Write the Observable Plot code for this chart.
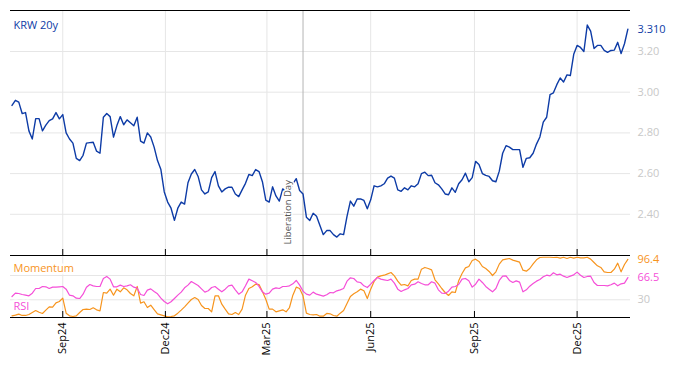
<!DOCTYPE html>
<html><head><meta charset="utf-8">
<script src="https://cdn.jsdelivr.net/npm/d3@7"></script>
<script src="https://cdn.jsdelivr.net/npm/@observablehq/plot@0.6"></script>
<style>
body{margin:0;background:#fff;}
#chart svg{display:block;}
</style></head><body><div id="chart"></div>
<script>
// sampling of the series: one reading every 3 calendar days from the first date
const firstDate = "2024-07-18";
const stepDays = 3;

const krw = [2.935, 2.96, 2.951, 2.895, 2.90, 2.81, 2.77, 2.87, 2.87, 2.81,
 2.838, 2.86, 2.869, 2.90, 2.869, 2.89, 2.80, 2.77, 2.75, 2.675,
 2.664, 2.69, 2.75, 2.752, 2.754, 2.71, 2.70, 2.877, 2.895, 2.88,
 2.779, 2.836, 2.88, 2.84, 2.864, 2.85, 2.835, 2.877, 2.76, 2.75,
 2.80, 2.78, 2.73, 2.664, 2.62, 2.51, 2.46, 2.43, 2.37, 2.43,
 2.46, 2.45, 2.555, 2.598, 2.62, 2.586, 2.52, 2.50, 2.51, 2.58,
 2.61, 2.54, 2.51, 2.525, 2.533, 2.533, 2.50, 2.487, 2.52, 2.552,
 2.596, 2.59, 2.62, 2.61, 2.56, 2.47, 2.46, 2.535, 2.49, 2.465,
 2.525, 2.51, 2.51, 2.55, 2.575, 2.517, 2.50, 2.386, 2.37, 2.405,
 2.39, 2.345, 2.30, 2.32, 2.32, 2.30, 2.288, 2.304, 2.30, 2.39,
 2.465, 2.44, 2.475, 2.476, 2.468, 2.427, 2.471, 2.54, 2.535, 2.54,
 2.55, 2.578, 2.588, 2.578, 2.52, 2.513, 2.53, 2.52, 2.54, 2.535,
 2.55, 2.60, 2.607, 2.59, 2.592, 2.555, 2.545, 2.525, 2.50, 2.496,
 2.53, 2.508, 2.55, 2.57, 2.602, 2.56, 2.58, 2.66, 2.645, 2.60,
 2.591, 2.586, 2.565, 2.56, 2.612, 2.70, 2.737, 2.73, 2.718, 2.718,
 2.718, 2.631, 2.675, 2.678, 2.70, 2.745, 2.78, 2.853, 2.877, 2.988,
 2.997, 3.037, 3.07, 3.05, 3.085, 3.082, 3.186, 3.23, 3.22, 3.20,
 3.33, 3.30, 3.215, 3.23, 3.23, 3.206, 3.196, 3.205, 3.207, 3.245,
 3.19, 3.238, 3.31];

const momentum = [3.6, 4.7, 6.4, 4.2, 4.2, 5.8, 9.1, 12.4, 9.6, 7.5,
 13.0, 18.4, 17.9, 25.0, 27.2, 32.7, 8.0, 3.6, 2.5, 3.6,
 9.1, 14.0, 14.6, 14.0, 16.8, 13.5, 11.8, 42.0, 40.9, 47.5,
 37.6, 47.5, 43.1, 49.7, 46.4, 40.4, 36.5, 51.9, 24.5, 26.7,
 17.3, 21.2, 14.0, 6.9, 5.3, 3.6, 2.0, 2.5, 3.6, 8.0,
 13.0, 18.4, 24.5, 30.5, 33.8, 30.5, 20.6, 15.7, 15.7, 10.2,
 36.5, 36.5, 22.8, 14.6, 6.9, 5.8, 9.1, 5.8, 14.6, 37.6,
 48.6, 51.4, 55.7, 55.2, 43.7, 31.0, 14.6, 14.6, 10.2, 11.8,
 13.5, 10.2, 17.3, 37.6, 50.8, 48.6, 36.5, 8.0, 5.8, 5.3,
 5.8, 3.0, 3.0, 7.5, 6.9, 4.2, 3.0, 8.0, 12.4, 23.9,
 35.4, 39.8, 43.1, 47.5, 44.8, 32.1, 47.5, 60.1, 67.3, 69.4,
 70.5, 72.7, 74.9, 69.4, 60.7, 54.1, 55.2, 53.0, 61.8, 64.0,
 64.0, 80.4, 83.2, 81.5, 79.3, 62.9, 56.3, 48.6, 42.0, 37.1,
 43.1, 42.0, 61.2, 73.3, 82.6, 84.8, 94.7, 96.9, 93.1, 84.8,
 81.5, 76.6, 70.0, 76.0, 88.7, 95.8, 96.9, 98.0, 95.3, 93.6,
 91.9, 78.8, 77.1, 81.5, 89.2, 95.8, 99.6, 100, 100, 100,
 99.6, 100, 98.5, 100, 98.0, 100, 98.5, 100, 99.1, 99.1,
 100, 96.9, 91.4, 85.9, 83.2, 76.0, 74.9, 74.9, 80.4, 90.3,
 76.0, 88.1, 96.4];

const rsi = [35.4, 40.9, 40.4, 38.7, 37.6, 36.5, 40.9, 48.6, 48.6, 51.9,
 51.4, 48.6, 50.8, 50.8, 51.4, 51.9, 47.5, 37.6, 36.5, 32.7,
 32.1, 39.3, 50.8, 55.2, 53.0, 51.9, 51.9, 65.1, 68.4, 64.0,
 51.4, 51.4, 54.1, 51.9, 53.0, 54.7, 50.8, 49.1, 38.7, 37.1,
 45.9, 48.0, 43.7, 39.8, 32.7, 27.2, 23.4, 26.7, 32.1, 37.6,
 42.6, 49.7, 54.1, 60.1, 56.8, 53.5, 48.0, 42.6, 44.8, 50.2,
 51.9, 47.5, 43.1, 47.5, 53.0, 54.1, 46.4, 39.3, 43.1, 53.0,
 64.0, 61.2, 58.5, 51.9, 43.1, 39.3, 40.9, 47.5, 49.7, 48.6,
 51.9, 51.9, 53.0, 56.3, 61.8, 54.1, 44.2, 39.3, 37.6, 42.6,
 39.3, 37.6, 36.0, 38.2, 42.0, 41.5, 44.8, 46.4, 48.6, 60.7,
 66.2, 65.1, 59.6, 58.5, 53.0, 50.2, 55.7, 61.8, 66.7, 64.0,
 62.9, 61.8, 64.0, 57.4, 47.5, 43.7, 46.4, 48.6, 54.7, 55.7,
 59.6, 56.8, 54.7, 54.7, 59.6, 57.4, 46.4, 40.9, 40.4, 44.2,
 50.8, 51.9, 55.2, 64.0, 65.1, 61.2, 50.8, 55.7, 64.0, 58.5,
 51.9, 47.5, 43.1, 48.6, 61.8, 68.9, 69.4, 61.8, 58.5, 61.2,
 59.0, 43.1, 46.4, 52.4, 56.8, 60.7, 63.4, 67.8, 70.5, 69.4,
 74.4, 71.1, 72.2, 68.9, 66.7, 68.9, 71.1, 75.5, 70.5, 66.7,
 68.4, 68.9, 58.5, 53.5, 53.5, 53.5, 53.0, 54.7, 57.4, 53.0,
 56.3, 57.4, 66.5];

const xTickDates = ["2024-09-01", "2024-12-01", "2025-03-01", "2025-06-01", "2025-09-01", "2025-12-01"];
const krwTicks = [2.4, 2.6, 2.8, 3.0, 3.2];
const oscGrid = [30, 70];
const oscTickLabels = [30];
const eventDates = ["2025-04-02"];
const eventLabels = ["Liberation Day"];
const seriesNames = ["KRW 20y", "Momentum", "RSI"];

// scale settings
const xDomain = [new Date("2024-07-16T16:00:00Z"), new Date("2026-01-17T08:00:00Z")];
const krwDomain = [2.1975, 3.4015];
const oscDomain = [0.86, 102.9];

const BLUE = "#0d3ba6", ORANGE = "#f7941d", PINK = "#f54fd8", GRID = "#e6e6e6", AXIS_TXT = "#c8c8c8";

const t0 = new Date(firstDate + "T00:00:00Z");
const rows = krw.map((v, i) => ({
  date: d3.utcDay.offset(t0, i * stepDays),
  krw: v, momentum: momentum[i], rsi: rsi[i]
}));
const xTicks = xTickDates.map(d => new Date(d + "T00:00:00Z"));
const events = eventDates.map((d, i) => ({date: new Date(d + "T00:00:00Z"), label: eventLabels[i]}));
const last = rows[rows.length - 1];

const common = {
  width: 674, marginLeft: 10, marginRight: 44,
  style: {fontFamily: "'Open Sans', 'Noto Sans', sans-serif", fontSize: "11px", background: "white", overflow: "visible"}
};

const topPlot = Plot.plot({
  ...common, height: 255, marginTop: 10, marginBottom: 0,
  x: {type: "utc", domain: xDomain, axis: null},
  y: {domain: krwDomain, axis: null},
  marks: [
    Plot.ruleX(xTicks, {stroke: GRID}),
    Plot.ruleY(krwTicks, {stroke: GRID}),
    Plot.ruleX(events, {x: "date", stroke: "#b4b4b4"}),
    Plot.lineY(rows, {x: "date", y: "krw", stroke: BLUE, strokeWidth: 1.4}),
    Plot.text(events, {x: "date", text: "label", rotate: -90, textAnchor: "start", frameAnchor: "bottom",
      dx: -12, dy: -11, fill: "#555", fontSize: 9.5, stroke: "white", strokeWidth: 3, paintOrder: "stroke"}),
    Plot.axisY(krwTicks, {anchor: "right", label: null, tickSize: 0, tickPadding: 7, tickFormat: d3.format(".2f"), color: AXIS_TXT}),
    Plot.text([last], {y: "krw", text: d => d3.format(".3f")(d.krw), frameAnchor: "right", dx: 7, textAnchor: "start", fill: BLUE}),
    Plot.text([seriesNames[0]], {text: d => d, frameAnchor: "top-left", dx: 3, dy: 15, lineAnchor: "middle", textAnchor: "start",
      fill: BLUE, stroke: "white", strokeWidth: 5, paintOrder: "stroke"}),
    Plot.ruleY([krwDomain[1]], {stroke: "black"}),
    Plot.tickX(xTicks, {stroke: "black", insetTop: 239})
  ]
});

const bottomPlot = Plot.plot({
  ...common, height: 111, marginTop: 0, marginBottom: 49,
  x: {type: "utc", domain: xDomain, axis: null},
  y: {domain: oscDomain, axis: null},
  marks: [
    Plot.ruleX(xTicks, {stroke: GRID}),
    Plot.ruleY(oscGrid, {stroke: GRID}),
    Plot.ruleX(events, {x: "date", stroke: "#b4b4b4"}),
    Plot.lineY(rows, {x: "date", y: "momentum", stroke: ORANGE, strokeWidth: 1.2}),
    Plot.lineY(rows, {x: "date", y: "rsi", stroke: PINK, strokeWidth: 1.2}),
    Plot.axisY(oscTickLabels, {anchor: "right", label: null, tickSize: 0, tickPadding: 7, color: AXIS_TXT}),
    Plot.text([last], {y: "momentum", text: d => d3.format(".1f")(d.momentum), frameAnchor: "right", dx: 7, textAnchor: "start",
      fill: ORANGE, stroke: "white", strokeWidth: 3, paintOrder: "stroke"}),
    Plot.text([last], {y: "rsi", text: d => d3.format(".1f")(d.rsi), frameAnchor: "right", dx: 7, textAnchor: "start",
      fill: PINK, stroke: "white", strokeWidth: 3, paintOrder: "stroke"}),
    Plot.text([seriesNames[1]], {text: d => d, frameAnchor: "top-left", dx: 3, dy: 13, lineAnchor: "middle", textAnchor: "start",
      fill: ORANGE, stroke: "white", strokeOpacity: 0.85, strokeWidth: 5, paintOrder: "stroke"}),
    Plot.text([seriesNames[2]], {text: d => d, frameAnchor: "top-left", dx: 3, dy: 51, lineAnchor: "middle", textAnchor: "start",
      fill: PINK, stroke: "white", strokeOpacity: 0.85, strokeWidth: 5, paintOrder: "stroke"}),
    Plot.ruleY([oscDomain[1]], {stroke: "black"}),
    Plot.ruleY([oscDomain[0]], {stroke: "black"}),
    Plot.tickX(xTicks, {stroke: "black", insetTop: 56}),
    Plot.axisX(xTicks, {anchor: "bottom", label: null, tickSize: 0, tickPadding: 5, tickRotate: -90,
      tickFormat: d3.utcFormat("%b%y"), color: "black", fontSize: 11})
  ]
});

const host = document.getElementById("chart");
host.append(topPlot, bottomPlot);
</script>
</body></html>
